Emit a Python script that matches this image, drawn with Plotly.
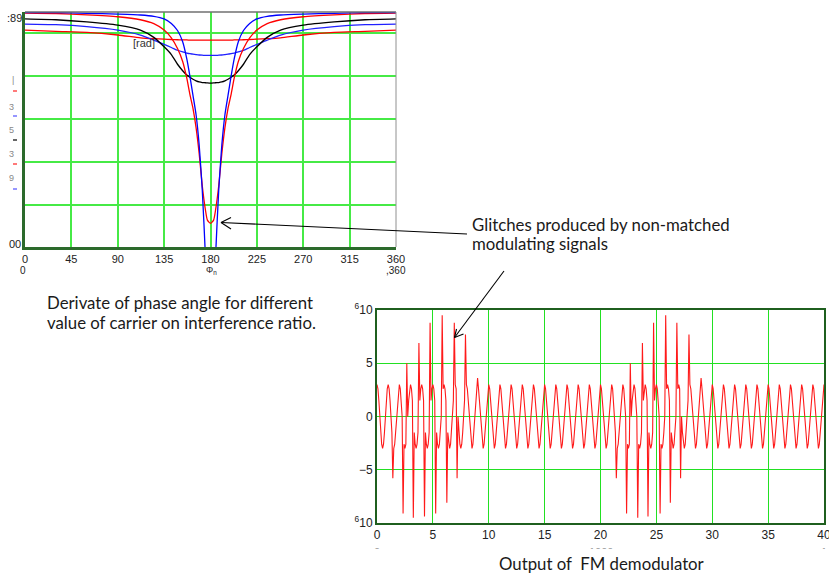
import plotly.graph_objects as go

W, H = 829, 573

# ---------------- Top chart data ----------------
theta = [0, 30, 60, 90, 112, 125, 135, 142, 148, 153, 157, 160, 163, 166, 169, 172, 175, 177,
         180,
         183, 185, 188, 191, 194, 197, 200, 203, 207, 212, 218, 225, 235, 248, 270, 300, 330, 360]

red_a = [0.93, 0.91, 0.85, 0.76, 0.62, 0.44, 0.14, -0.22, -0.72, -1.32, -2.1, -2.85, -3.5, -4.4, -5.6, -7.1, -8.2, -8.7,
         -8.85,
         -8.7, -8.2, -7.1, -5.6, -4.4, -3.5, -2.85, -2.1, -1.32, -0.72, -0.22, 0.14, 0.44, 0.62, 0.76, 0.85, 0.91, 0.93]
blue_a = [0.95, 0.95, 0.92, 0.88, 0.84, 0.78, 0.66, 0.45, 0.12, -0.4, -1.2, -2.0, -2.9, -3.8, -5.2, -7.3, -10.3, -13.0,
          -15.0,
          -13.0, -10.3, -7.3, -5.2, -3.8, -2.9, -2.0, -1.2, -0.4, 0.12, 0.45, 0.66, 0.78, 0.84, 0.88, 0.92, 0.95, 0.95]
black_a = [0.66, 0.62, 0.52, 0.37, 0.14, -0.2, -0.64, -1.0, -1.45, -1.75, -1.95, -2.05, -2.15, -2.22, -2.27, -2.3, -2.31, -2.32,
           -2.33,
           -2.32, -2.31, -2.3, -2.27, -2.22, -2.15, -2.05, -1.95, -1.75, -1.45, -1.0, -0.64, -0.2, 0.14, 0.37, 0.52, 0.62, 0.66]
blue_b = [0.42, 0.39, 0.3, 0.14, -0.09, -0.33, -0.53, -0.67, -0.8, -0.88, -0.93, -0.96, -0.98, -1.0, -1.02, -1.03, -1.04, -1.04,
          -1.04,
          -1.04, -1.04, -1.03, -1.02, -1.0, -0.98, -0.96, -0.93, -0.88, -0.8, -0.67, -0.53, -0.33, -0.09, 0.14, 0.3, 0.39, 0.42]
red_b = [0.14, 0.08, 0.03, -0.09, -0.22, -0.26, -0.28, -0.3, -0.31, -0.32, -0.32, -0.33, -0.33, -0.33, -0.33, -0.33, -0.33, -0.33,
         -0.33,
         -0.33, -0.33, -0.33, -0.33, -0.33, -0.33, -0.33, -0.32, -0.32, -0.31, -0.3, -0.28, -0.26, -0.22, -0.09, 0.03, 0.08, 0.14]

top_xticks = [0, 45, 90, 135, 180, 225, 270, 315, 360]

# ---------------- Bottom chart data ----------------
samples_per_period = 12
n_periods = 40
cycle = [3.0, 2.6, 1.5, 0.0, -1.5, -2.6, -3.0, -2.6, -1.5, 0.0, 1.5, 2.6]
glitch_t = [1.43, 2.32, 2.68, 3.27, 3.72, 4.26, 4.76, 5.27, 5.80, 6.25, 6.90, 7.20, 7.92, 8.96,
            21.43, 22.32, 22.70, 23.30, 23.72, 24.29, 24.76, 25.30, 25.80, 26.25, 26.85, 27.17, 27.90, 28.96]
glitch_v = [-5.8, -9.1, 5.0, -9.5, 6.9, -9.4, 8.8, -9.1, 9.5, -8.1, 8.8, -5.8, 7.7, 3.6,
            -5.8, -9.1, 5.0, -9.5, 6.9, -9.4, 8.8, -9.1, 9.5, -8.1, 8.8, -5.8, 7.7, 3.6]
bot_xticks = [0, 5, 10, 15, 20, 25, 30, 35, 40]
bot_yticks = [-10, -5, 0, 5, 10]
bot_yticktext = ["<sup>6</sup>10", "\u22125", "0", "5", "<sup>6</sup>10"]
bot_row2 = [(0, "0"), (20, "1000"), (40, "1")]

n = samples_per_period * n_periods + 1
t_vals = [i / samples_per_period for i in range(n)]
sig = [cycle[i % samples_per_period] for i in range(n)]
for gt, gv in zip(glitch_t, glitch_v):
    sig[int(round(gt * samples_per_period))] = gv


def X(px):
    return px / W


def Y(py):
    return 1 - py / H


fig = go.Figure()
for vals, col in [(red_b, "#ff0000"), (blue_b, "#2020ff"), (black_a, "#000000"),
                  (red_a, "#ff0000"), (blue_a, "#0000ff")]:
    fig.add_trace(go.Scatter(x=theta, y=vals, mode="lines", line=dict(color=col, width=1.3, shape="spline", smoothing=0.6),
                             xaxis="x", yaxis="y", showlegend=False, hoverinfo="skip"))

fig.add_trace(go.Scatter(x=t_vals, y=sig, mode="lines", line=dict(color="#ff1a1a", width=1.1),
                         xaxis="x2", yaxis="y2", showlegend=False, hoverinfo="skip"))

tickfont = dict(family="Liberation Sans, Arial, sans-serif", size=11, color="#222222")
grid_top = "#46ea46"
grid_bot = "#22e022"

fig.update_layout(
    width=W, height=H, margin=dict(l=0, r=0, t=0, b=0, pad=0, autoexpand=False), showlegend=False,
    paper_bgcolor="white", plot_bgcolor="white",
    xaxis=dict(domain=[X(25), X(396)], range=[0, 360], tickvals=top_xticks, ticks="", automargin=False,
               showgrid=True, gridcolor=grid_top, gridwidth=1.6, zeroline=False, ticklabeloverflow="allow",
               showline=True, linecolor="#2c6a2c", linewidth=2.5, anchor="y", tickfont=tickfont),
    yaxis=dict(domain=[Y(247), Y(12)], range=[-9.95, 0.98], tickvals=[-8, -6, -4, -2, 0], automargin=False,
               showticklabels=False, ticks="", showgrid=True, gridcolor=grid_top, gridwidth=1.6,
               zeroline=False, showline=True, linecolor="#2c6a2c", linewidth=2.5, anchor="x"),
    xaxis2=dict(domain=[X(377), X(824)], range=[0, 40], tickvals=bot_xticks, ticks="", automargin=False,
                showgrid=True, gridcolor=grid_bot, gridwidth=1.2, zeroline=False, ticklabeloverflow="allow",
                showline=True, mirror=True, linecolor="#1f5f1f", linewidth=2, anchor="y2",
                tickfont=dict(family="Liberation Sans, Arial, sans-serif", size=12, color="#222222")),
    yaxis2=dict(domain=[Y(523), Y(310)], range=[-10, 10], tickvals=bot_yticks, ticktext=bot_yticktext,
                ticks="", automargin=False, showgrid=True, gridcolor=grid_bot, gridwidth=1.2, zeroline=False,
                showline=True, mirror=True, linecolor="#1f5f1f", linewidth=2, anchor="x2",
                tickfont=dict(family="Liberation Sans, Arial, sans-serif", size=12, color="#222222")),
)

shapes = []
# top chart gray top/right frame
shapes.append(dict(type="line", xref="paper", yref="paper", x0=X(25), x1=X(396), y0=Y(12), y1=Y(12),
                   line=dict(color="#707070", width=1.6)))
shapes.append(dict(type="line", xref="paper", yref="paper", x0=X(396), x1=X(396), y0=Y(12), y1=Y(247),
                   line=dict(color="#909090", width=1)))
# left remnant legend dashes
for py, col in [(91, "#ff2020"), (116, "#5050ff"), (140, "#000000"), (164, "#ff2020"), (189, "#5050ff")]:
    shapes.append(dict(type="line", xref="paper", yref="paper", x0=X(13), x1=X(17), y0=Y(py), y1=Y(py),
                       line=dict(color=col, width=1.2)))


def arrow(tail, tip, arm1, arm2):
    out = [dict(type="line", xref="paper", yref="paper", x0=X(tail[0]), y0=Y(tail[1]), x1=X(tip[0]), y1=Y(tip[1]),
                line=dict(color="#000000", width=1.1))]
    for a in (arm1, arm2):
        out.append(dict(type="line", xref="paper", yref="paper", x0=X(a[0]), y0=Y(a[1]), x1=X(tip[0]), y1=Y(tip[1]),
                        line=dict(color="#000000", width=1.1)))
    return out


shapes += arrow((467, 234), (221, 222.5), (231, 217.5), (231, 229))
shapes += arrow((504, 271), (454.5, 337.5), (456.5, 329), (463.5, 334))
fig.update_layout(shapes=shapes)

ann = []
# clipped second row of bottom-axis labels (only their tops show)
for xv, txt in bot_row2:
    ann.append(dict(text=txt, x=xv, xref="x2", y=Y(552), yref="paper", xanchor="center", yanchor="middle",
                    showarrow=False, font=dict(family="Liberation Sans, Arial, sans-serif", size=11, color="#333333")))
ann.append(dict(text=" ", x=X(600), y=Y(553), xref="paper", yref="paper", xanchor="center", yanchor="middle",
                width=470, height=8, bgcolor="white", borderpad=0, showarrow=False, font=dict(size=6)))

cap_font = dict(family="Lato, Open Sans, sans-serif", size=16.8, color="#1a1a1a")
ann.append(dict(text="Glitches produced by non-matched", x=X(470), y=Y(224), xref="paper", yref="paper",
                xanchor="left", yanchor="middle", showarrow=False, font=cap_font))
ann.append(dict(text="modulating signals", x=X(470), y=Y(244), xref="paper", yref="paper",
                xanchor="left", yanchor="middle", showarrow=False, font=cap_font))
ann.append(dict(text="Derivate of phase angle for different", x=X(45), y=Y(302), xref="paper", yref="paper",
                xanchor="left", yanchor="middle", showarrow=False, font=cap_font))
ann.append(dict(text="value of carrier on interference ratio.", x=X(45), y=Y(323), xref="paper", yref="paper",
                xanchor="left", yanchor="middle", showarrow=False, font=cap_font))
ann.append(dict(text="Output of  FM demodulator", x=X(497), y=Y(563), xref="paper", yref="paper",
                xanchor="left", yanchor="middle", showarrow=False, font=cap_font))
small = dict(family="Liberation Sans, Arial, sans-serif", size=11, color="#222222")
ann.append(dict(text="[rad]", x=X(131), y=Y(43), xref="paper", yref="paper", xanchor="left", yanchor="middle",
                showarrow=False, font=dict(family="Liberation Sans, Arial, sans-serif", size=11, color="#333333")))
ann.append(dict(text=":89", x=X(24), y=Y(18), xref="paper", yref="paper", xanchor="right", yanchor="middle",
                showarrow=False, font=small))
ann.append(dict(text="00", x=X(23), y=Y(244), xref="paper", yref="paper", xanchor="right", yanchor="middle",
                showarrow=False, font=small))
row2 = dict(family="Liberation Sans, Arial, sans-serif", size=10, color="#222222")
ann.append(dict(text="0", x=X(23), y=Y(271), xref="paper", yref="paper", xanchor="center", yanchor="middle",
                showarrow=False, font=row2))
ann.append(dict(text="\u03a6<sub>n</sub>", x=X(211), y=Y(271), xref="paper", yref="paper", xanchor="center",
                yanchor="middle", showarrow=False, font=dict(family="Liberation Sans, Arial, sans-serif", size=9, color="#222222")))
ann.append(dict(text=",360", x=X(396), y=Y(271), xref="paper", yref="paper", xanchor="center", yanchor="middle",
                showarrow=False, font=row2))
for py, ch in [(80, "|"), (107, "3"), (130, "5"), (154, "3"), (178, "9")]:
    ann.append(dict(text=ch, x=X(16), y=Y(py), xref="paper", yref="paper", xanchor="right", yanchor="middle",
                    showarrow=False, font=dict(family="Liberation Sans, Arial, sans-serif", size=9, color="#888888")))
fig.update_layout(annotations=ann)

fig.write_html("out.html", config={"displayModeBar": False},
               post_script="document.body.style.margin='0';")
